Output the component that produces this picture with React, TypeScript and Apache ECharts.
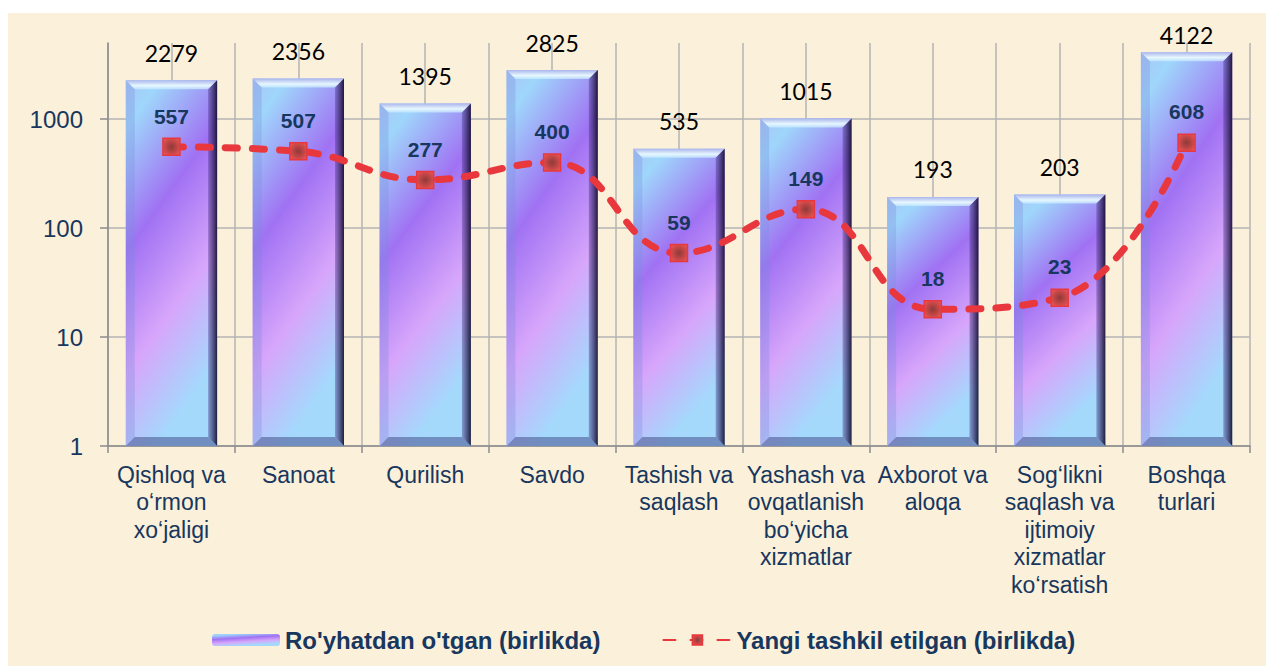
import React, { useEffect, useRef } from "react";
import * as echarts from "echarts";

const categories = [
  "Qishloq va\no‘rmon\nxo‘jaligi",
  "Sanoat",
  "Qurilish",
  "Savdo",
  "Tashish va\nsaqlash",
  "Yashash va\novqatlanish\nbo‘yicha\nxizmatlar",
  "Axborot va\naloqa",
  "Sog‘likni\nsaqlash va\nijtimoiy\nxizmatlar\nko‘rsatish",
  "Boshqa\nturlari",
];
const registered = [2279, 2356, 1395, 2825, 535, 1015, 193, 203, 4122];
const newlyCreated = [557, 507, 277, 400, 59, 149, 18, 23, 608];
const seriesNames = ["Ro'yhatdan o'tgan (birlikda)", "Yangi tashkil etilgan (birlikda)"];

const NAVY = "#17375E";
const ARIAL = "Liberation Sans";
const BAR_RATIO = 0.72;

export default function App() {
  const ref = useRef<HTMLDivElement>(null);
  useEffect(() => {
    if (!ref.current) return;
    const chart = echarts.init(ref.current, null, { renderer: "svg" });
    const barFill = new echarts.graphic.LinearGradient(0, 0, 0.35, 1, [
      { offset: 0, color: "#a9c6f6" },
      { offset: 0.12, color: "#9fd6fb" },
      { offset: 0.42, color: "#a072f3" },
      { offset: 0.72, color: "#d7a6fb" },
      { offset: 1, color: "#a4d9fc" },
    ]);
    const markerFill = new echarts.graphic.RadialGradient(0.5, 0.5, 0.7, [
      { offset: 0, color: "#8e3a3a" },
      { offset: 0.5, color: "#c44646" },
      { offset: 1, color: "#f25a5a" },
    ]);
    const bevelData = registered.map((v, i) => [i, v]);
    const lastIdx = registered.length - 1;
    const barData = registered.map((v, i) =>
      i === lastIdx ? { value: v, label: { distance: 6 } } : v
    );
    chart.setOption({
      animation: false,
      backgroundColor: "#FBF0DA",
      legend: {
        data: seriesNames,
        left: 199,
        top: 610,
        itemWidth: 68,
        itemHeight: 12,
        itemGap: 62,
        textStyle: { fontFamily: ARIAL, fontSize: 24, fontWeight: "bold", color: NAVY },
      },
      grid: { left: 100, right: 16, top: 30, bottom: 220, containLabel: false },
      xAxis: [
        {
          type: "category",
          data: categories,
          axisLine: { lineStyle: { color: "#8c8c8c", width: 1.5 } },
          axisTick: { show: true, length: 7, lineStyle: { color: "#8c8c8c", width: 1.5 } },
          splitLine: { show: false },
          axisLabel: {
            interval: 0,
            margin: 15,
            fontFamily: ARIAL,
            fontSize: 23,
            lineHeight: 27.5,
            color: NAVY,
            align: "center",
          },
        },
        {
          type: "value",
          min: 0,
          max: 18,
          interval: 1,
          position: "bottom",
          axisLine: { show: false },
          axisTick: { show: false },
          axisLabel: { show: false },
          splitLine: { show: true, lineStyle: { color: "#b4b4b4", width: 1.5 } },
        },
      ],
      yAxis: {
        type: "log",
        logBase: 10,
        min: 1,
        max: 5000,
        axisLine: { show: true, lineStyle: { color: "#8c8c8c", width: 1.5 } },
        axisTick: { show: true, length: 8, lineStyle: { color: "#8c8c8c", width: 1.5 } },
        axisLabel: {
          margin: 25,
          fontFamily: ARIAL,
          fontSize: 24,
          color: NAVY,
          showMaxLabel: false,
          formatter: (v: number) => String(Math.round(v)),
        },
        splitLine: {
          show: true,
          lineStyle: { color: ["#b4b4b4", "#b4b4b4", "#b4b4b4", "#b4b4b4", "rgba(0,0,0,0)"], width: 1.5 },
        },
      },
      series: [
        {
          name: seriesNames[0],
          type: "bar",
          xAxisIndex: 0,
          data: barData,
          barWidth: BAR_RATIO * 100 + "%",
          itemStyle: { color: barFill },
          label: {
            show: true,
            position: "top",
            distance: 16,
            fontFamily: "Lato",
            fontSize: 23,
            color: "#000",
          },
          z: 2,
        },
        {
          name: "bevel",
          type: "custom",
          xAxisIndex: 0,
          silent: true,
          data: bevelData,
          z: 3,
          renderItem: (params: any, api: any) => {
            const i = api.value(0);
            const v = api.value(1);
            const top = api.coord([i, v]);
            const base = api.coord([i, 1]);
            const w = api.size([1, 0])[0] * BAR_RATIO;
            const x0 = top[0] - w / 2;
            const x1 = top[0] + w / 2;
            const y0 = top[1];
            const y1 = base[1];
            const b = 9;
            return {
              type: "group",
              children: [
                {
                  type: "polygon",
                  shape: { points: [[x0, y0], [x1, y0], [x1 - b, y0 + b], [x0 + b, y0 + b]] },
                  style: {
                    fill: new echarts.graphic.LinearGradient(0, 0, 0, 1, [
                      { offset: 0, color: "rgba(170,180,235,0.95)" },
                      { offset: 0.6, color: "rgba(235,250,255,0.95)" },
                      { offset: 1, color: "rgba(200,235,255,0.7)" },
                    ]),
                  },
                },
                {
                  type: "polygon",
                  shape: { points: [[x0, y0], [x0 + b, y0 + b], [x0 + b, y1 - b], [x0, y1]] },
                  style: { fill: "rgba(120,140,220,0.3)" },
                },
                {
                  type: "polygon",
                  shape: { points: [[x1, y0], [x1, y1], [x1 - b, y1 - b], [x1 - b, y0 + b]] },
                  style: {
                    fill: new echarts.graphic.LinearGradient(0, 0, 1, 0, [
                      { offset: 0, color: "rgba(60,40,120,0.35)" },
                      { offset: 1, color: "rgba(15,10,40,0.9)" },
                    ]),
                  },
                },
                {
                  type: "polygon",
                  shape: { points: [[x0, y1], [x1, y1], [x1 - b, y1 - b], [x0 + b, y1 - b]] },
                  style: { fill: "rgba(70,80,140,0.55)" },
                },
              ],
            };
          },
        },
        {
          name: seriesNames[1],
          type: "line",
          xAxisIndex: 0,
          data: newlyCreated,
          smooth: 0.45,
          symbol: "rect",
          symbolSize: 17,
          lineStyle: { color: "#E8383D", width: 7, type: [12, 15], cap: "round" },
          itemStyle: { color: markerFill, borderColor: "#e8383d", borderWidth: 1.5 },
          label: {
            show: true,
            position: "top",
            distance: 11,
            fontFamily: ARIAL,
            fontSize: 21,
            fontWeight: "bold",
            color: NAVY,
          },
          z: 5,
        },
      ],
    });
    return () => chart.dispose();
  }, []);
  return (
    <div
      ref={ref}
      style={{ position: "fixed", left: 8, top: 13, width: 1258, height: 653 }}
    />
  );
}
